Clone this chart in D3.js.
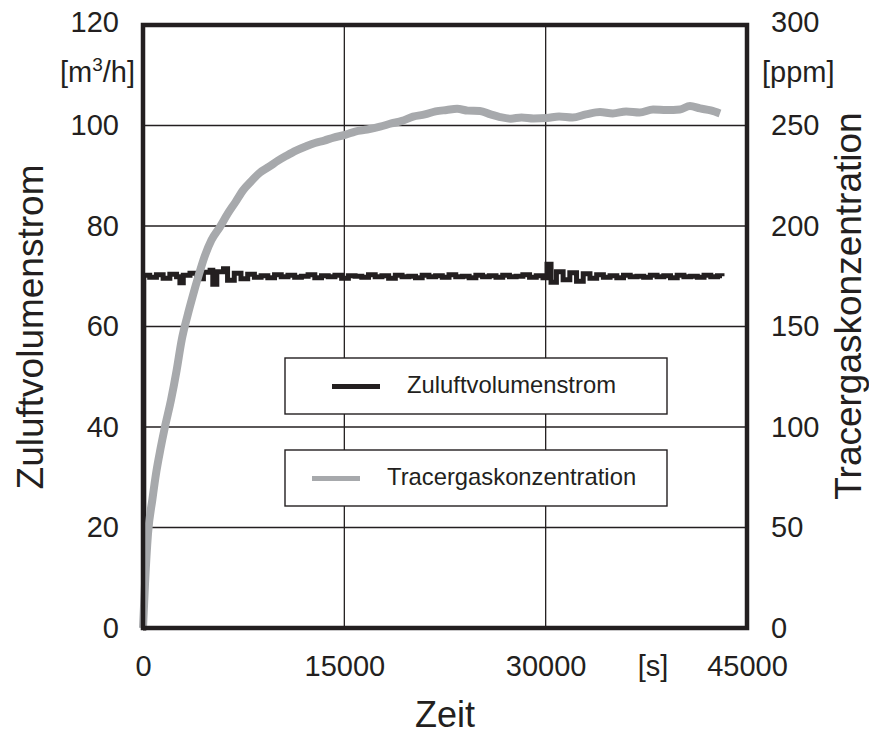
<!DOCTYPE html>
<html>
<head>
<meta charset="utf-8">
<script src="https://cdn.jsdelivr.net/npm/d3@7"></script>
<style>
  body { margin: 0; background: #fff; }
  svg text { font-family: "Liberation Sans", Arial, sans-serif; fill: #231f20; }
</style>
</head>
<body>
<svg id="chart"></svg>
<script>
// time axis ticks [s]
const timeTicks = [0, 15000, 30000, 45000];
const flowTicks = [0, 20, 40, 60, 80, 100, 120];
const ppmTicks = [0, 50, 100, 150, 200, 250, 300];

// Zuluftvolumenstrom [m3/h]
const flowTime = [0, 60, 500, 1000, 1500, 2000, 2500, 2750, 3000, 3500, 4000, 4500, 5000, 5200, 5500, 6000, 6300, 6800, 7300, 7800,
  8300, 8800, 9300, 9800, 10300, 10800, 11300, 11800, 12300, 12800, 13300, 13800, 14300, 14800, 15300, 15800, 16300, 16800,
  17300, 17800, 18300, 18800, 19300, 19800, 20300, 20800, 21300, 21800, 22300, 22800, 23300, 23800, 24300, 24800, 25300,
  25800, 26300, 26800, 27300, 27800, 28300, 28800, 29300, 29800, 30100, 30400, 30800, 31300, 31800, 32300, 32800, 33300,
  33800, 34300, 34800, 35300, 35800, 36300, 36800, 37300, 37800, 38300, 38800, 39300, 39800, 40300, 40800, 41300, 41800,
  42300, 42800, 43137];
const flowValues = [0, 70.2, 69.8, 70.3, 69.6, 70.4, 69.9, 68.7, 70.2, 70.6, 69.5, 70.8, 71.2, 68.4, 70.9, 71.5, 69.2, 70.6, 69.5, 70.4,
  69.8, 70.1, 69.7, 70.3, 69.9, 70.2, 69.8, 70.0, 70.3, 69.7, 70.1, 69.9, 70.2, 69.6, 70.1, 70.0, 69.8, 70.3,
  69.9, 70.1, 69.6, 70.2, 69.9, 70.0, 69.7, 70.2, 69.9, 70.1, 69.8, 70.3, 69.9, 70.0, 69.7, 70.2, 69.9,
  70.1, 69.8, 70.2, 69.9, 70.0, 70.3, 69.8, 70.1, 69.7, 72.4, 68.8, 70.9, 69.3, 70.7, 69.0, 70.5, 69.6,
  70.3, 69.8, 70.1, 69.7, 70.2, 69.9, 70.0, 69.8, 70.2, 69.9, 70.1, 69.7, 70.2, 69.9, 70.0, 69.8, 70.2,
  69.9, 70.1, 70.0];

// Tracergaskonzentration [ppm]
const tracerTime = [0, 150, 373, 700, 1000, 1300, 1617, 2086, 2500, 2883, 3300, 3700, 4120, 4600, 5100, 5737, 6300, 6900, 7472,
  8100, 8700, 9400, 10058, 10700, 11400, 12100, 12814, 13500, 14200, 15049, 15800, 16700, 17657, 18500, 19300, 20116,
  21000, 21800, 22625, 23400, 24200, 25106, 25900, 26597, 27400, 28200, 29100, 30076, 31000, 32000, 33000, 34048,
  35000, 36000, 37000, 38000, 39016, 40000, 40752, 41500, 42300, 42987];
const tracerValues = [0, 22, 47, 64, 78, 89, 99.5, 113.4, 128, 143.3, 155, 165, 174.8, 185, 193, 199.6, 206, 212, 217.9,
  222.5, 226.5, 229.5, 232.5, 235, 237.5, 239.5, 241.3, 242.5, 244, 245.3, 247, 248, 249.4, 251, 252.3, 254.4,
  255.5, 257, 257.7, 258.3, 257.4, 257.2, 255.5, 254.2, 253.4, 254, 253.5, 253.7, 254.5, 254, 255.5, 256.7,
  256, 257, 256.5, 258, 257.7, 258, 259.7, 258.5, 257.5, 256];

const seriesNames = ["Zuluftvolumenstrom", "Tracergaskonzentration"];
const seriesColors = ["#231f20", "#a7a9ac"];

const W = 869, H = 735;
const margin = { left: 143, top: 25, right: 122, bottom: 107 };
const w = W - margin.left - margin.right;
const h = H - margin.top - margin.bottom;

const svg = d3.select("#chart").attr("width", W).attr("height", H);
const plot = svg.append("g").attr("transform", `translate(${margin.left},${margin.top})`);

const x = d3.scaleLinear().domain([0, 45000]).range([0, w]);
const y = d3.scaleLinear().domain([0, 120]).range([h, 0]);
const y2 = d3.scaleLinear().domain([0, 300]).range([h, 0]);

// gridlines
plot.append("g")
  .selectAll("line")
  .data(flowTicks.slice(1, -1))
  .join("line")
  .attr("x1", 0).attr("x2", w)
  .attr("y1", d => y(d)).attr("y2", d => y(d))
  .attr("stroke", "#231f20").attr("stroke-width", 1.3);

plot.append("g")
  .selectAll("line")
  .data(timeTicks.slice(1, -1))
  .join("line")
  .attr("y1", 0).attr("y2", h)
  .attr("x1", d => x(d)).attr("x2", d => x(d))
  .attr("stroke", "#231f20").attr("stroke-width", 1.3);

// series
const flowData = flowTime.map((t, i) => [t, flowValues[i]]);
const tracerData = tracerTime.map((t, i) => [t, tracerValues[i]]);

plot.append("path")
  .datum(flowData)
  .attr("fill", "none")
  .attr("stroke", seriesColors[0])
  .attr("stroke-width", 5)
  .attr("d", d3.line().x(d => x(d[0])).y(d => y(d[1])).curve(d3.curveStepAfter));

plot.append("path")
  .datum(tracerData)
  .attr("fill", "none")
  .attr("stroke", seriesColors[1])
  .attr("stroke-width", 8)
  .attr("d", d3.line().x(d => x(d[0])).y(d => y2(d[1])).curve(d3.curveMonotoneX));

// legend
const legendRows = [
  { y0: 333, lx1: 189, lx2: 237, tx: 264 },
  { y0: 425, lx1: 169, lx2: 217, tx: 244 }
];
legendRows.forEach((r, i) => {
  const g = plot.append("g");
  g.append("rect")
    .attr("x", 142).attr("y", r.y0)
    .attr("width", 382).attr("height", 56)
    .attr("fill", "#fff").attr("stroke", "#231f20").attr("stroke-width", 1.4);
  g.append("line")
    .attr("x1", r.lx1).attr("x2", r.lx2)
    .attr("y1", r.y0 + 28.5).attr("y2", r.y0 + 28.5)
    .attr("stroke", seriesColors[i]).attr("stroke-width", 5);
  g.append("text")
    .attr("x", r.tx).attr("y", r.y0 + 35)
    .attr("font-size", 23.8)
    .text(seriesNames[i]);
});

// frame
plot.append("rect")
  .attr("width", w).attr("height", h)
  .attr("fill", "none").attr("stroke", "#231f20").attr("stroke-width", 4.5);

// axes
const tickFont = 29;
const left = plot.append("g")
  .call(d3.axisLeft(y).tickValues(flowTicks).tickSize(0).tickPadding(24));
const right = plot.append("g")
  .attr("transform", `translate(${w},0)`)
  .call(d3.axisRight(y2).tickValues(ppmTicks).tickSize(0).tickPadding(24));
const bottom = plot.append("g")
  .attr("transform", `translate(0,${h})`)
  .call(d3.axisBottom(x).tickValues(timeTicks).tickFormat(d3.format("d")).tickSize(0).tickPadding(27));
[left, right, bottom].forEach(a => {
  a.select(".domain").remove();
  a.selectAll("text").attr("font-size", tickFont).attr("fill", "#231f20")
    .style("font-family", '"Liberation Sans", Arial, sans-serif');
});
left.selectAll(".tick").filter(d => d === 120).select("text").attr("dy", "0.22em");
right.selectAll(".tick").filter(d => d === 300).select("text").attr("dy", "0.22em");

// units
const unitL = svg.append("text")
  .attr("x", 135).attr("y", 82)
  .attr("text-anchor", "end")
  .attr("font-size", tickFont);
unitL.append("tspan").text("[m");
unitL.append("tspan").attr("font-size", 19).attr("dy", -11).text("3");
unitL.append("tspan").attr("dy", 11).text("/h]");

svg.append("text")
  .attr("x", 762).attr("y", 82)
  .attr("font-size", tickFont)
  .text("[ppm]");

svg.append("text")
  .attr("x", 653).attr("y", 676)
  .attr("text-anchor", "middle")
  .attr("font-size", tickFont)
  .text("[s]");

// titles
svg.append("text")
  .attr("x", 445).attr("y", 727)
  .attr("text-anchor", "middle")
  .attr("font-size", 36)
  .text("Zeit");

svg.append("text")
  .attr("transform", "translate(43,327) rotate(-90)")
  .attr("text-anchor", "middle")
  .attr("font-size", 37)
  .text("Zuluftvolumenstrom");

svg.append("text")
  .attr("transform", "translate(861,306) rotate(-90)")
  .attr("text-anchor", "middle")
  .attr("font-size", 37)
  .text("Tracergaskonzentration");
</script>
</body>
</html>
